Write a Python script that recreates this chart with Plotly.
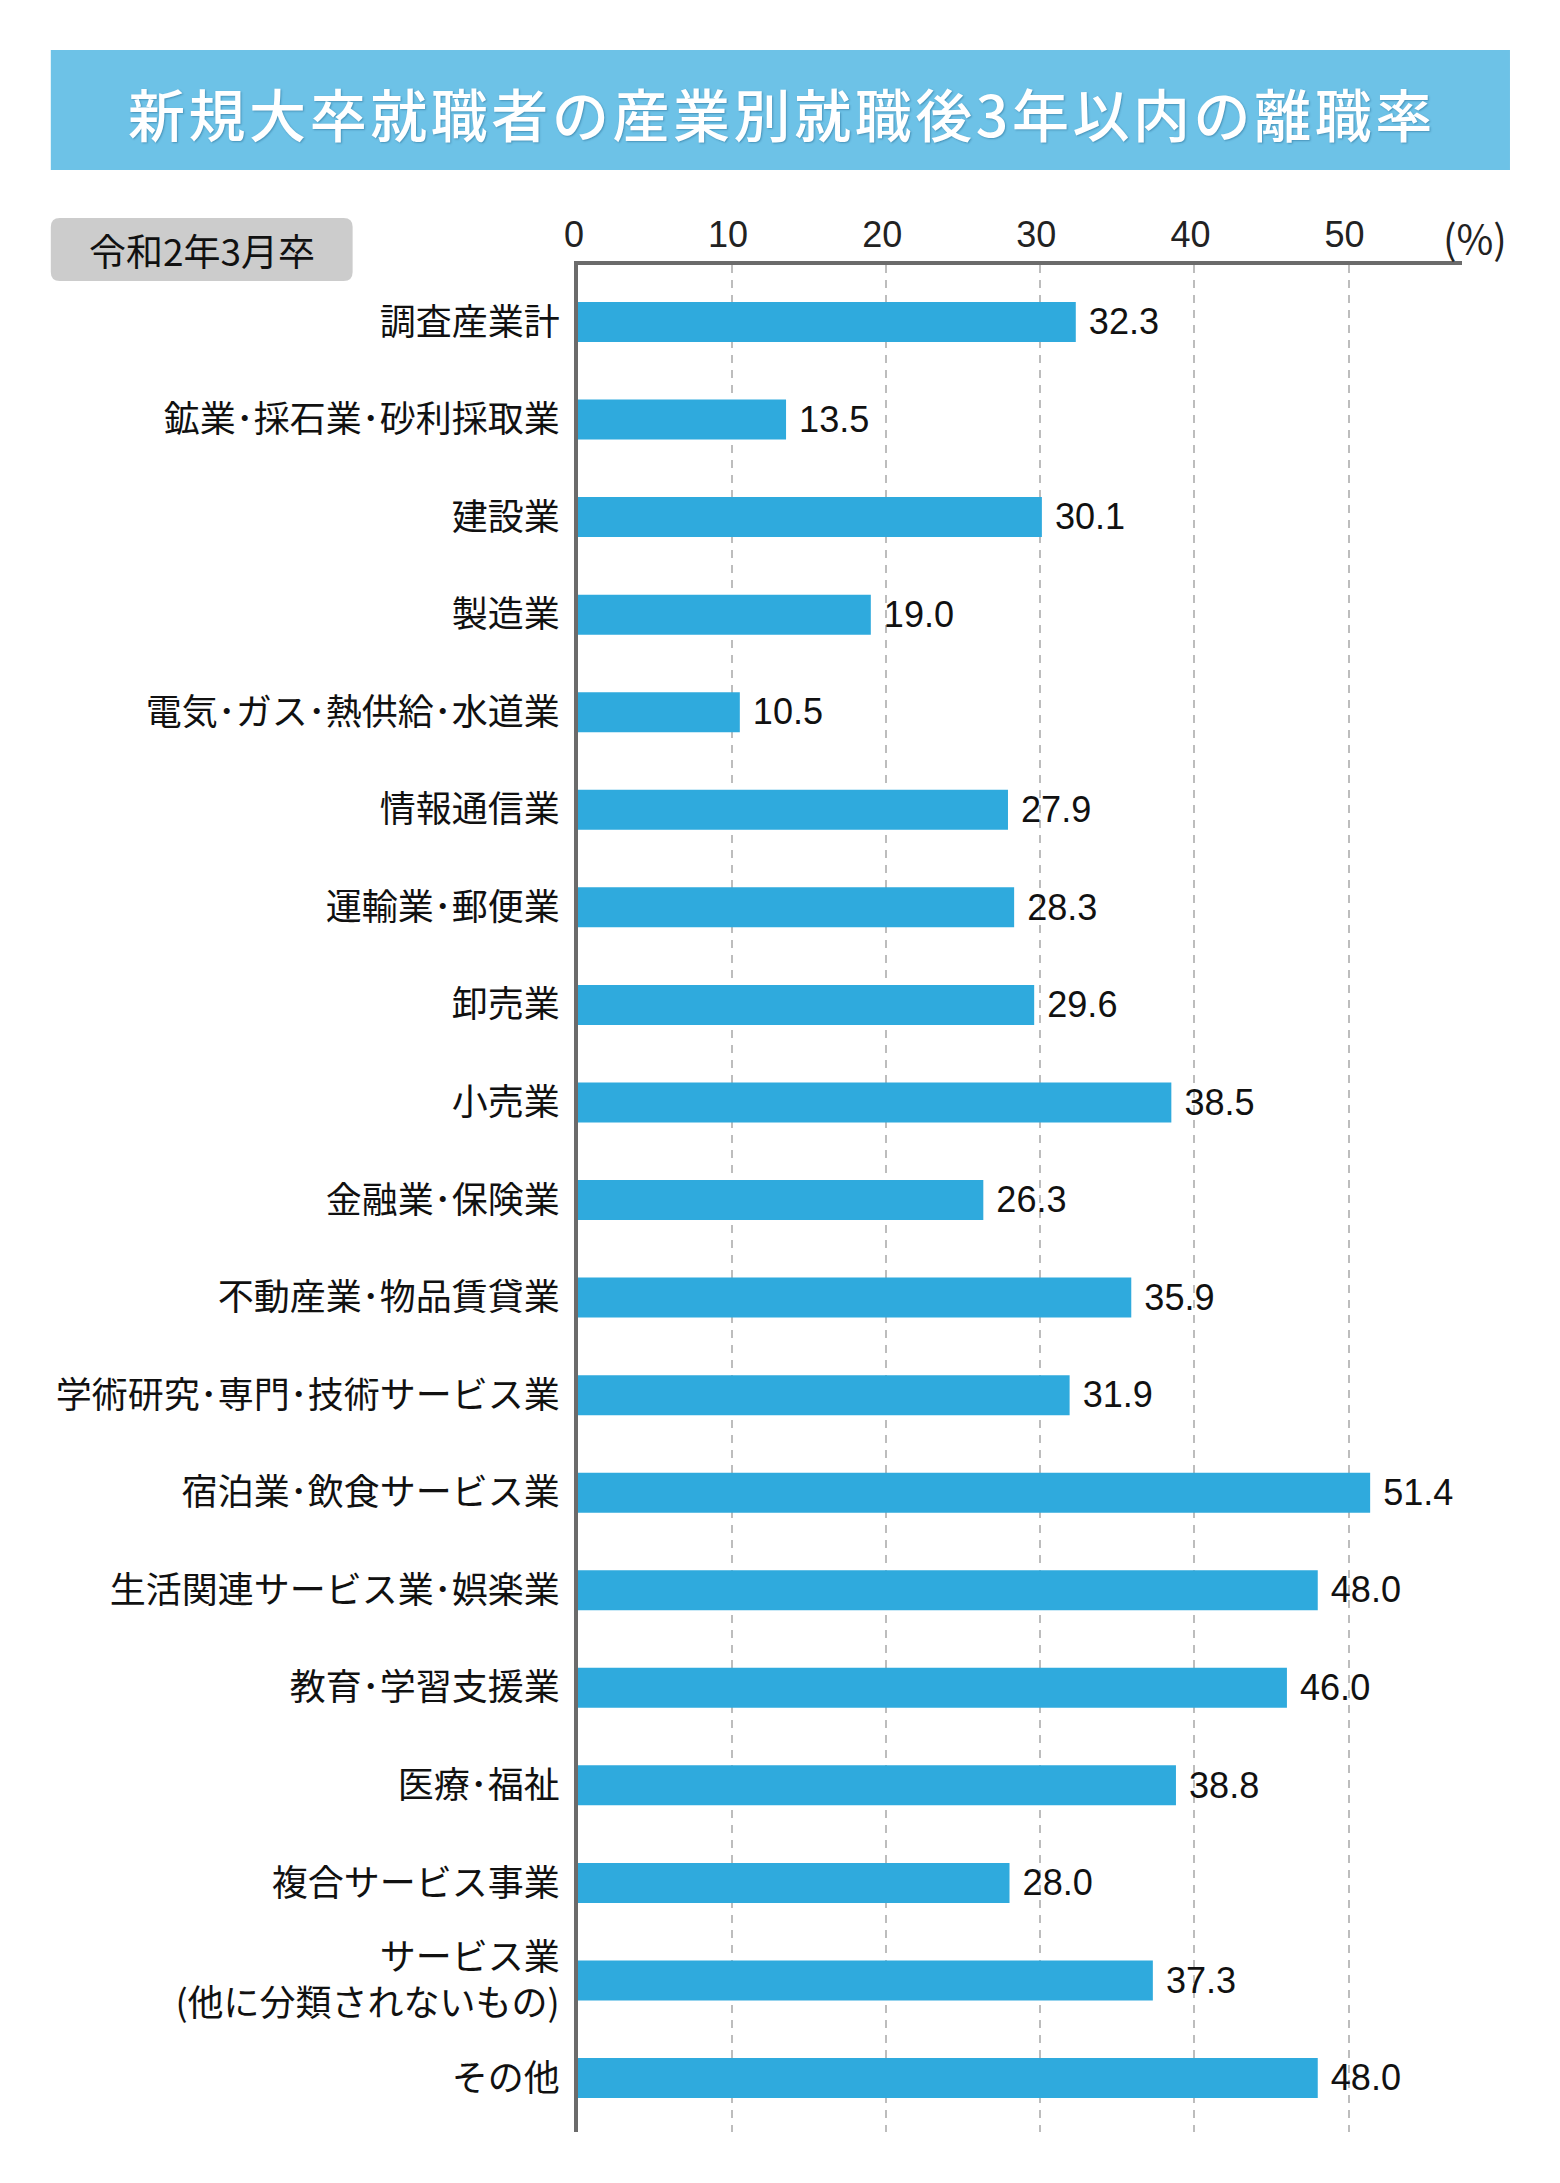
import plotly.graph_objects as go

categories = [
    "調査産業計", "鉱業･採石業･砂利採取業", "建設業", "製造業",
    "電気･ガス･熱供給･水道業", "情報通信業", "運輸業･郵便業", "卸売業",
    "小売業", "金融業･保険業", "不動産業･物品賃貸業",
    "学術研究･専門･技術サービス業", "宿泊業･飲食サービス業",
    "生活関連サービス業･娯楽業", "教育･学習支援業", "医療･福祉",
    "複合サービス事業", "サービス業<br>(他に分類されないもの)", "その他",
]
values = [32.3, 13.5, 30.1, 19.0, 10.5, 27.9, 28.3, 29.6, 38.5, 26.3,
          35.9, 31.9, 51.4, 48.0, 46.0, 38.8, 28.0, 37.3, 48.0]
tick_vals = [0, 10, 20, 30, 40, 50]
title_text = "新規大卒就職者の産業別就職後3年以内の離職率"
badge_text = "令和2年3月卒"
unit_text = "(%)"

# page has an 8px body margin; figure coordinates = page - 8
OFF = 8
W, H = 1552, 2175
L, R, T, B = 569.5, 1454, 257, 2124
PW, PH = R - L, B - T

def px(x):
    return (x - OFF - L) / PW

def py(y):
    return (B - (y - OFF)) / PH

JP = "Noto Sans CJK JP, Noto Sans, sans-serif"
NUM = "Liberation Sans, Noto Sans CJK JP, sans-serif"

fig = go.Figure()
fig.add_trace(go.Bar(
    y=categories, x=values, orientation="h",
    marker=dict(color="#2faadd", line=dict(width=0)),
    width=0.41,
    text=[" " + f"{v:.1f}" for v in values],
    textposition="outside",
    textfont=dict(family=NUM, size=37, color="#111111"),
    cliponaxis=False,
    hoverinfo="skip",
))

# title box
fig.add_shape(type="rect", xref="paper", yref="paper",
              x0=px(50), x1=px(1510), y0=py(170), y1=py(50),
              fillcolor="#6dc2e7", line=dict(width=0), layer="below")
spaced_title = "\u200a".join(list(title_text))
fig.add_annotation(xref="paper", yref="paper", x=px(780), y=py(112),
                   text=spaced_title, showarrow=False,
                   xanchor="center", yanchor="middle",
                   font=dict(family=JP, size=57, color="white", weight=500,
                             shadow="1px 1px 2px rgba(0,60,100,0.35)"))

# badge with rounded corners
bx0, bx1, by0, by1 = 50, 352, 218, 281
r = 9
path = (f"M {px(bx0 + r)},{py(by0)} L {px(bx1 - r)},{py(by0)} "
        f"Q {px(bx1)},{py(by0)} {px(bx1)},{py(by0 + r)} "
        f"L {px(bx1)},{py(by1 - r)} Q {px(bx1)},{py(by1)} {px(bx1 - r)},{py(by1)} "
        f"L {px(bx0 + r)},{py(by1)} Q {px(bx0)},{py(by1)} {px(bx0)},{py(by1 - r)} "
        f"L {px(bx0)},{py(by0 + r)} Q {px(bx0)},{py(by0)} {px(bx0 + r)},{py(by0)} Z")
fig.add_shape(type="path", xref="paper", yref="paper", path=path,
              fillcolor="#cccccc", line=dict(width=0), layer="below")
fig.add_annotation(xref="paper", yref="paper", x=px(201), y=py(250),
                   text=badge_text, showarrow=False,
                   xanchor="center", yanchor="middle",
                   font=dict(family=JP, size=37, color="#111111"))

# unit label
fig.add_annotation(xref="paper", yref="paper", x=px(1475), y=py(237),
                   text=unit_text, showarrow=False,
                   xanchor="center", yanchor="middle",
                   font=dict(family=JP, size=40, color="#222222"))

fig.update_layout(
    width=W, height=H,
    margin=dict(l=L, r=W - R, t=T, b=H - B),
    paper_bgcolor="white", plot_bgcolor="white",
    showlegend=False,
)
fig.update_xaxes(
    side="top", range=[0, 57.36], tickvals=tick_vals,
    showline=True, linecolor="#6b6b6b", linewidth=4,
    showgrid=True, gridcolor="#bdbdbd", gridwidth=1.5, griddash="8px,7px",
    zeroline=False, ticks="", ticklabelstandoff=0, ticklabelshift=-4,
    tickfont=dict(family=NUM, size=36, color="#222222"),
)
fig.update_yaxes(
    type="category", range=[18.553, -0.584],
    showline=True, linecolor="#6b6b6b", linewidth=4,
    showgrid=False, zeroline=False, ticks="", ticklabelstandoff=7,
    tickfont=dict(family=JP, size=36, color="#111111"),
)

fig.write_html("out.html")
